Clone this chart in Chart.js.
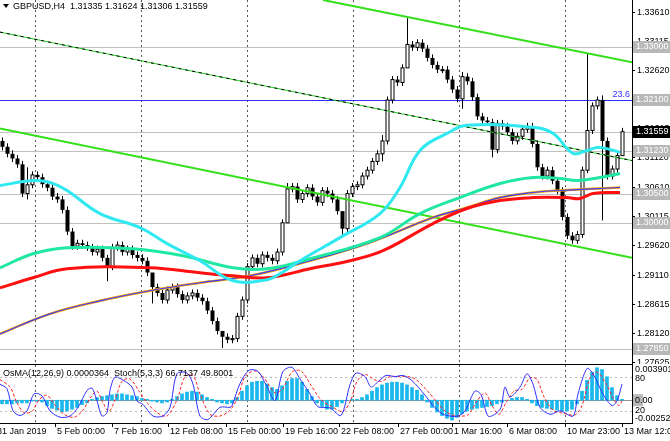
<!DOCTYPE html>
<html>
<head>
<meta charset="utf-8">
<script src="https://cdn.jsdelivr.net/npm/chart.js@4/dist/chart.umd.min.js"></script>
<style>
  body { margin: 0; background: #fff; width: 670px; height: 441px; overflow: hidden; position: relative; }
  canvas { position: absolute; left: 0; }
  #main { top: 0; }
  #osc { top: 364px; }
</style>
</head>
<body>
<canvas id="main" width="670" height="364"></canvas>
<canvas id="osc" width="670" height="77"></canvas>
<script>
// H4 closes, one per bar (31 Jan 2019 .. 13 Mar 2019)
const closes = [
  1.3130, 1.3118, 1.3110, 1.3100, 1.3050, 1.3065, 1.3082, 1.3078, 1.3066, 1.3060,
  1.3045, 1.3040, 1.3022, 1.2985, 1.2960, 1.2965, 1.2962, 1.2958, 1.2950, 1.2955,
  1.2940, 1.2925, 1.2958, 1.2962, 1.2950, 1.2955, 1.2945, 1.2940, 1.2935, 1.2915,
  1.2890, 1.2880, 1.2868, 1.2885, 1.2890, 1.2878, 1.2868, 1.2875, 1.2880, 1.2872,
  1.2866, 1.2850, 1.2832, 1.2815, 1.2805, 1.2800, 1.2802, 1.2840, 1.2868, 1.2925,
  1.2940, 1.2930, 1.2945, 1.2940, 1.2935, 1.2950, 1.3000, 1.3058, 1.3062, 1.3040,
  1.3050, 1.3060, 1.3045, 1.3035, 1.3055, 1.3050, 1.3040, 1.3020, 1.2990, 1.3050,
  1.3062, 1.3065, 1.3080, 1.3090, 1.3105, 1.3118, 1.3140, 1.3210, 1.3245, 1.3240,
  1.3265, 1.3305, 1.3300, 1.3308, 1.3298, 1.3282, 1.3270, 1.3262, 1.3262, 1.3245,
  1.3228, 1.3212, 1.3250, 1.3242, 1.3215, 1.3182, 1.3175, 1.3172, 1.3125, 1.3170,
  1.3165, 1.3155, 1.3140, 1.3148, 1.3160, 1.3165, 1.3135, 1.3095, 1.3080, 1.3090,
  1.3072, 1.3055, 1.3010, 1.2978, 1.2970, 1.2980, 1.3090, 1.3158, 1.3200, 1.3210,
  1.3140, 1.3080, 1.3092, 1.3115, 1.31559
];
const firstOpen = 1.3140;
// bars with long shadows: [bar, low, high]
const bigWicks = [[5, 1.3040, 1.3095], [21, 1.2900, 1.2945], [30, 1.2862, 1.2905], [44, 1.2786, 1.2812], [57, 1.3000, 1.3068],
  [68, 1.2975, 1.3010], [76, 1.3105, 1.3150], [81, 1.3292, 1.3350], [92, 1.3195, 1.3258],
  [98, 1.3112, 1.3178], [117, 1.3085, 1.3290], [120, 1.3004, 1.3218], [124, 1.31306, 1.31624]];

// moving averages [bar, price]
const maCyan = [[-0.4,1.30638],[6.2,1.30724],[9.6,1.30690],[13,1.30553],[19.6,1.30158],[27.6,1.29918],[33,1.29644],
  [39.6,1.29352],[46.2,1.29009],[53,1.29026],[55.6,1.29129],[59.6,1.29352],[67.6,1.29747],[75.6,1.30158],
  [79.6,1.30604],[83.6,1.31238],[89,1.31530],[93,1.31667],[106.2,1.31633],[110.2,1.31530],[114.2,1.31187],
  [117,1.31238],[119.6,1.31290],[123.6,1.31204]];
const maGreen = [[-0.4,1.29231],[6.2,1.29471],[13,1.29574],[26.2,1.29557],[36.2,1.29437],[46.2,1.29231],[53,1.29214],
  [61.6,1.29386],[75.6,1.29747],[83.6,1.30158],[91.6,1.30432],[99.6,1.30672],[106.2,1.30775],[111.6,1.30758],
  [115,1.30724],[119.6,1.30775],[123.6,1.30844]];
const maRed = [[-0.4,1.28888],[6.2,1.29060],[13,1.29214],[29.6,1.29231],[39.6,1.29146],[46.2,1.29094],[53,1.29060],
  [61.6,1.29214],[69.6,1.29352],[76.2,1.29523],[86.2,1.29987],[93,1.30244],[99.6,1.30381],[106.2,1.30432],
  [113,1.30432],[115.6,1.30415],[118.2,1.30501],[123.6,1.30518]];
const maBlue = [[-0.4,1.28100],[9.6,1.28443],[19.6,1.28666],[29.6,1.28838],[39.6,1.28975],[49.6,1.29094],
  [61.6,1.29352],[73,1.29644],[86.2,1.30090],[93,1.30261],[99.6,1.30432],[106.2,1.30518],[111.6,1.30553],[123.6,1.30604]];

// trend lines [bar, price]
const channelTop = [[64.2, 1.33811], [126, 1.32747]];
const channelBottom = [[-0.4, 1.31614], [126, 1.29402]];
const midLine = [[-0.4, 1.33262], [126, 1.31065]];

const levels = [1.33000, 1.31230, 1.30500, 1.30000, 1.27850];
const fibLevel = 1.32100;
const lastPrice = 1.31559;
const priceTicks = [1.33610, 1.33115, 1.32620, 1.32125, 1.31615, 1.31120, 1.30610, 1.30115, 1.29620, 1.29110, 1.28615, 1.28120, 1.27625];
const gridBars = [6.6, 27.8, 49, 70.2, 91.4, 112.6];
const dateLabels = ['31 Jan 2019', '5 Feb 00:00', '7 Feb 16:00', '12 Feb 08:00', '15 Feb 00:00', '19 Feb 16:00',
  '22 Feb 08:00', '27 Feb 00:00', '1 Mar 16:00', '6 Mar 08:00', '10 Mar 23:00', '13 Mar 12:00'];
const dateBars = [-1.4, 10.6, 22, 33.2, 44.8, 56.2, 67.4, 79.2, 90, 101, 112.6, 124];

// oscillator
const osma = [
  -0.0004,-0.0004,-0.0004,-0.0003,-0.0003,-0.0003,-0.0001,-0.0001,-0.0002,-0.0006,
  -0.0009,-0.0011,-0.0013,-0.0012,-0.0010,-0.0008,-0.0005,-0.0003,0.0001,0.0003,
  0.0004,0.0005,0.0006,0.0007,0.0007,0.0006,0.0005,0.0004,0.0002,0.0001,
  -0.0001,-0.0002,-0.0003,-0.0002,0.0001,0.0004,0.0007,0.0009,0.0010,0.0009,
  0.0006,0.0003,0.0001,-0.0002,-0.0003,-0.0004,-0.0003,0.0003,0.0010,0.0016,
  0.0020,0.0021,0.0021,0.0018,0.0014,0.0012,0.0016,0.0021,0.0024,0.0024,
  0.0020,0.0012,0.0004,-0.0003,-0.0007,-0.0010,-0.0010,-0.0007,-0.0003,0.0000,
  0.0001,0.0001,0.0003,0.0006,0.0010,0.0014,0.0017,0.0019,0.0020,0.0020,
  0.0019,0.0017,0.0014,0.0011,0.0006,-0.0002,-0.0008,-0.0013,-0.0017,-0.0020,
  -0.0022,-0.0019,-0.0015,-0.0012,-0.0010,-0.0009,-0.0008,-0.0007,-0.0006,-0.0004,
  -0.0002,0.0000,0.0002,0.0003,0.0003,0.0001,-0.0003,-0.0006,-0.0008,-0.0009,
  -0.0010,-0.0011,-0.0012,-0.0012,-0.0010,-0.0004,0.0010,0.0022,0.0031,0.0036,
  0.0034,0.0026,0.0014,0.0005,0.0001
];
const stochMain = [[-0.4,67],[1,59],[2.2,21],[3.6,13],[5,21],[6,44],[6.6,51],[8,47],[9.6,21],[11.6,10],[13.6,12],
  [15.2,27],[17,56],[18,60],[19,38],[20,12],[21,18],[21.6,56],[22.6,79],[24.2,74],[26,62],[27,38],[28.2,32],
  [30.2,12],[32.2,12],[33.6,27],[35,85],[37,86],[38.2,67],[39.6,12],[41.2,6],[43.6,27],[45.6,27],[46,30],
  [47.6,68],[49.4,91],[51.2,89],[52.8,66],[54.6,39],[56.2,89],[58,96],[59.6,76],[61.4,53],[63.2,28],[65.6,26],
  [67.8,13],[69.6,66],[70.8,86],[72.6,80],[73.8,62],[75.2,71],[76.8,82],[78.6,80],[80.2,82],[82,73],[84.6,48],
  [86.2,30],[88,16],[89.6,12],[91.2,12],[92.6,21],[94.6,55],[95.8,49],[97.2,12],[98.6,15],[99.8,27],[100.6,62],
  [101.6,45],[103.6,62],[105,85],[106.2,67],[107.6,27],[109.6,15],[111.6,21],[114.2,12],[115.2,50],[117,94],
  [118.2,85],[120.2,50],[122,30],[123,38],[124,67]];
const stochSignal = [[-0.4,75],[1.6,62],[3,35],[4.4,18],[6,20],[7.4,40],[9,48],[10.4,33],[12.4,15],[14.4,10],[16,20],
  [17.8,45],[19,55],[20.2,35],[21.4,20],[22.6,40],[24,72],[25.6,76],[27.4,55],[29,35],[31,18],[33,12],[35,40],
  [36.6,80],[38.2,82],[39.6,50],[41.6,15],[43.6,12],[45.6,22],[47.2,45],[48.6,80],[50.6,90],[52.4,78],[54.6,52],
  [56.2,60],[58,88],[59.8,90],[61.8,65],[63.8,40],[66,28],[68.2,20],[69.8,40],[71,72],[72.6,84],[74.4,75],[76,72],
  [77.6,80],[79.4,80],[81.2,80],[82.8,75],[84.8,58],[86.6,40],[88.4,22],[90,14],[91.6,12],[93.2,14],[95,38],
  [96.6,52],[98,30],[99.4,15],[100.8,35],[102.4,55],[104,58],[105.6,78],[107,75],[108.4,45],[110.2,22],[112.2,17],
  [114.6,14],[116,30],[117.6,78],[119,88],[120.8,68],[122.4,40],[123.4,30],[124,38]];

const FONT = '9px "Liberation Sans", Arial, sans-serif';
const X_MIN = -0.4, X_MAX = 126;
const pts = arr => arr.map(p => ({ x: p[0], y: p[1] }));

function lineSet(data, color, width, extra) {
  return Object.assign({ type: 'line', data: pts(data), borderColor: color, borderWidth: width,
    pointRadius: 0, tension: 0.4, fill: false }, extra || {});
}

const candlePlugin = {
  id: 'candles',
  beforeDatasetsDraw(chart) {
    const { ctx, chartArea: a, scales: { x, y } } = chart;
    ctx.save();
    // vertical dotted grid
    ctx.strokeStyle = '#555'; ctx.lineWidth = 1; ctx.setLineDash([2, 3]);
    gridBars.forEach(b => {
      const px = Math.round(x.getPixelForValue(b)) + 0.5;
      ctx.beginPath(); ctx.moveTo(px, a.top); ctx.lineTo(px, a.bottom); ctx.stroke();
    });
    ctx.setLineDash([]);
    // horizontal levels
    ctx.strokeStyle = '#c0c0c0';
    levels.concat([lastPrice]).forEach(v => {
      const py = Math.round(y.getPixelForValue(v)) + 0.5;
      ctx.beginPath(); ctx.moveTo(a.left, py); ctx.lineTo(a.right, py); ctx.stroke();
    });
    ctx.strokeStyle = '#3030ff';
    const fy = Math.round(y.getPixelForValue(fibLevel)) + 0.5;
    ctx.beginPath(); ctx.moveTo(a.left, fy); ctx.lineTo(a.right, fy); ctx.stroke();
    ctx.fillStyle = '#3030ff'; ctx.font = FONT; ctx.textAlign = 'right'; ctx.textBaseline = 'bottom';
    ctx.fillText('23.6', a.right - 2, fy - 1);
    // candles
    const wicks = {};
    bigWicks.forEach(w => { wicks[w[0]] = w; });
    closes.forEach((c, i) => {
      const o = i === 0 ? firstOpen : closes[i - 1];
      const hi = wicks[i] ? wicks[i][2] : Math.max(o, c) + 0.0006;
      const lo = wicks[i] ? wicks[i][1] : Math.min(o, c) - 0.0006;
      const px = Math.round(x.getPixelForValue(i)) + 0.5;
      ctx.strokeStyle = '#000';
      ctx.beginPath(); ctx.moveTo(px, y.getPixelForValue(hi)); ctx.lineTo(px, y.getPixelForValue(lo)); ctx.stroke();
      const t = y.getPixelForValue(Math.max(o, c)), b = y.getPixelForValue(Math.min(o, c));
      const h = Math.max(1, b - t);
      if (c >= o) {
        ctx.fillStyle = '#fff'; ctx.fillRect(px - 1.5, t, 3, h); ctx.strokeRect(px - 1.5, t, 3, h);
      } else {
        ctx.fillStyle = '#000'; ctx.fillRect(px - 2, t, 4, h);
      }
    });
    ctx.restore();
  },
  afterDraw(chart) {
    const { ctx, chartArea: a, scales: { y } } = chart;
    ctx.save();
    ctx.font = FONT; ctx.textBaseline = 'middle'; ctx.textAlign = 'left';
    // price axis
    ctx.fillStyle = '#000'; ctx.strokeStyle = '#000';
    priceTicks.forEach(v => {
      const py = Math.round(y.getPixelForValue(v)) + 0.5;
      ctx.beginPath(); ctx.moveTo(a.right, py); ctx.lineTo(a.right + 3, py); ctx.stroke();
      ctx.fillText(v.toFixed(5), a.right + 5, py);
    });
    const box = (v, bg) => {
      const py = Math.round(y.getPixelForValue(v));
      ctx.fillStyle = bg; ctx.fillRect(a.right + 1, py - 6, 37, 12);
      ctx.fillStyle = '#fff'; ctx.fillText(v.toFixed(5), a.right + 4, py);
    };
    levels.concat([fibLevel]).forEach(v => box(v, '#b8b8b8'));
    box(lastPrice, '#000');
    // frame
    ctx.strokeStyle = '#000'; ctx.lineWidth = 1;
    ctx.beginPath(); ctx.moveTo(a.right + 0.5, 0); ctx.lineTo(a.right + 0.5, a.bottom + 0.5); ctx.lineTo(0, a.bottom + 0.5); ctx.stroke();
    // header
    ctx.fillStyle = '#000'; ctx.textBaseline = 'top';
    ctx.beginPath(); ctx.moveTo(3, 4); ctx.lineTo(9, 4); ctx.lineTo(6, 8); ctx.fill();
    ctx.fillText('GBPUSD,H4  1.31335 1.31624 1.31306 1.31559', 13, 2);
    ctx.restore();
  }
};

// note: dataset 0 is painted last (on top)
new Chart(document.getElementById('main'), {
  type: 'line',
  data: {
    datasets: [
      lineSet(maCyan, '#30e8f0', 3),
      lineSet(maGreen, '#20e8a0', 3),
      lineSet(maRed, '#ff1010', 3),
      lineSet(maBlue, '#3a3aff', 1.2),
      lineSet(maBlue, '#ffa500', 2.5),
      lineSet(channelTop, '#33e01a', 2, { tension: 0 }),
      lineSet(channelBottom, '#33e01a', 2, { tension: 0 }),
      lineSet(midLine, '#000', 1, { tension: 0, borderDash: [3, 4] }),
      lineSet(midLine, '#22cc22', 1, { tension: 0 })
    ]
  },
  options: {
    responsive: false, animation: false,
    layout: { padding: { left: 0, top: 0, bottom: 0, right: 38 } },
    plugins: { legend: { display: false }, tooltip: { enabled: false } },
    scales: {
      x: { type: 'linear', min: X_MIN, max: X_MAX, display: false },
      y: { min: 1.27585, max: 1.33811, display: false }
    }
  },
  plugins: [candlePlugin]
});

const oscPlugin = {
  id: 'osc',
  beforeDatasetsDraw(chart) {
    const { ctx, chartArea: a, scales: { x, y, y2 } } = chart;
    ctx.save();
    ctx.strokeStyle = '#555'; ctx.setLineDash([2, 3]);
    gridBars.forEach(b => {
      const px = Math.round(x.getPixelForValue(b)) + 0.5;
      ctx.beginPath(); ctx.moveTo(px, a.top); ctx.lineTo(px, a.bottom); ctx.stroke();
    });
    ctx.strokeStyle = '#bbb';
    [80, 20].forEach(v => {
      const py = Math.round(y2.getPixelForValue(v)) + 0.5;
      ctx.beginPath(); ctx.moveTo(a.left, py); ctx.lineTo(a.right, py); ctx.stroke();
    });
    ctx.setLineDash([]);
    ctx.strokeStyle = '#909090';
    const zy = Math.round(y.getPixelForValue(0)) + 0.5;
    ctx.beginPath(); ctx.moveTo(a.left, zy); ctx.lineTo(a.right, zy); ctx.stroke();
    ctx.restore();
  },
  afterDraw(chart) {
    const { ctx, chartArea: a, scales: { x, y, y2 } } = chart;
    ctx.save();
    ctx.strokeStyle = '#000'; ctx.lineWidth = 1;
    ctx.strokeRect(-1, a.top - 0.5, a.right + 1.5, a.bottom - a.top + 1);
    ctx.font = FONT; ctx.fillStyle = '#000'; ctx.textBaseline = 'middle'; ctx.textAlign = 'left';
    ctx.fillText('OsMA(12,26,9) 0.0000364  Stoch(5,3,3) 66.7137 49.8001', 3, a.top + 9);
    const rx = a.right + 3;
    ctx.fillText('0.0039015', rx, a.top + 5);
    ctx.fillText('80', rx, y2.getPixelForValue(80) + 2);
    ctx.fillStyle = '#b8b8b8'; ctx.fillRect(a.right + 1, y.getPixelForValue(0) - 6, 10, 12);
    ctx.fillStyle = '#000'; ctx.fillText('0.00', rx, y.getPixelForValue(0));
    ctx.fillText('20', rx, y2.getPixelForValue(20) - 1);
    ctx.fillText('-0.002525', rx, a.bottom - 4);
    // time axis
    ctx.textBaseline = 'top';
    dateLabels.forEach((t, i) => {
      const px = Math.round(x.getPixelForValue(dateBars[i]));
      ctx.beginPath(); ctx.moveTo(px + 0.5, a.bottom); ctx.lineTo(px + 0.5, a.bottom + 4); ctx.stroke();
      ctx.fillText(t, px + 2, a.bottom + 4);
    });
    ctx.restore();
  }
};

new Chart(document.getElementById('osc'), {
  data: {
    datasets: [
      { type: 'line', data: pts(stochMain), borderColor: '#3030ff', borderWidth: 1,
        pointRadius: 0, tension: 0.3, yAxisID: 'y2' },
      { type: 'line', data: pts(stochSignal), borderColor: '#ff2020', borderWidth: 1, borderDash: [3, 2],
        pointRadius: 0, tension: 0.3, yAxisID: 'y2' },
      { type: 'bar', data: osma.map((v, i) => ({ x: i, y: v })), backgroundColor: '#18b8ec',
        barThickness: 3, yAxisID: 'y' }
    ]
  },
  options: {
    responsive: false, animation: false,
    layout: { padding: { top: 1, bottom: 18, right: 38, left: 0 } },
    plugins: { legend: { display: false }, tooltip: { enabled: false } },
    scales: {
      x: { type: 'linear', min: X_MIN, max: X_MAX, offset: false, display: false },
      y: { min: -0.002525, max: 0.0039015, display: false },
      y2: { min: 0, max: 100, display: false }
    }
  },
  plugins: [oscPlugin]
});
</script>
</body>
</html>
